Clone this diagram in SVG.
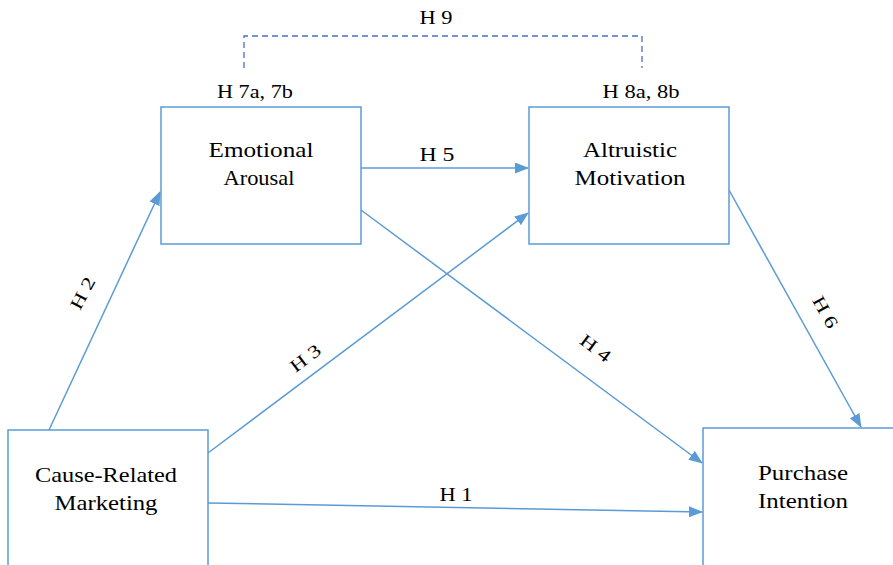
<svg xmlns="http://www.w3.org/2000/svg" width="893" height="565" viewBox="0 0 893 565">
<style>
.box{fill:#fff;stroke:#5B9BD5;stroke-width:1.5}
.ln{fill:none;stroke:#5B9BD5;stroke-width:1.5}
.dash{fill:none;stroke:#4472C4;stroke-width:1.3;stroke-dasharray:6 4}
text{font-family:'Liberation Serif','DejaVu Serif',serif;fill:#000;text-anchor:middle}
.nt{font-size:22px}
.lb{font-size:18px}
</style>
<defs>
<marker id="ah" markerWidth="14" markerHeight="11" refX="13" refY="5.5" orient="auto" markerUnits="userSpaceOnUse">
<path d="M0,0 L14,5.5 L0,11 Z" fill="#5B9BD5"/>
</marker>
</defs>
<rect width="893" height="565" fill="#fff"/>
<g id="connectors">
<line class="ln" x1="49" y1="430" x2="160" y2="192" marker-end="url(#ah)"/>
<line class="ln" x1="208" y1="453" x2="528" y2="213" marker-end="url(#ah)"/>
<line class="ln" x1="361" y1="168" x2="528" y2="168" marker-end="url(#ah)"/>
<line class="ln" x1="361" y1="210" x2="702" y2="463" marker-end="url(#ah)"/>
<line class="ln" x1="729" y1="190" x2="861" y2="427" marker-end="url(#ah)"/>
<line class="ln" x1="208" y1="503" x2="702" y2="512" marker-end="url(#ah)"/>
<polyline class="dash" points="244,68 244,36 642,36 642,68"/>
<text class="lb" x="436" y="24" textLength="33" lengthAdjust="spacingAndGlyphs">H 9</text>
<text class="lb" x="255" y="98" textLength="76" lengthAdjust="spacingAndGlyphs">H 7a, 7b</text>
<text class="lb" x="641" y="98" textLength="77" lengthAdjust="spacingAndGlyphs">H 8a, 8b</text>
<text class="lb" x="437" y="161" textLength="35" lengthAdjust="spacingAndGlyphs">H 5</text>
<text class="lb" x="456" y="501" textLength="33" lengthAdjust="spacingAndGlyphs">H 1</text>
<text class="lb" transform="translate(88,296) rotate(-62)" textLength="34" lengthAdjust="spacingAndGlyphs">H 2</text>
<text class="lb" transform="translate(309,363) rotate(-37)" textLength="34" lengthAdjust="spacingAndGlyphs">H 3</text>
<text class="lb" transform="translate(592,353) rotate(37)" textLength="34" lengthAdjust="spacingAndGlyphs">H 4</text>
<text class="lb" transform="translate(820,315) rotate(61)" textLength="34" lengthAdjust="spacingAndGlyphs">H 6</text>
</g>
<g id="emotional-arousal">
<rect class="box" x="161" y="107" width="200" height="137"/>
<text class="nt" x="261" y="157" textLength="105" lengthAdjust="spacingAndGlyphs">Emotional</text>
<text class="nt" x="259" y="185" textLength="71" lengthAdjust="spacingAndGlyphs">Arousal</text>
</g>
<g id="altruistic-motivation">
<rect class="box" x="529" y="107" width="200" height="137"/>
<text class="nt" x="630" y="157" textLength="94" lengthAdjust="spacingAndGlyphs">Altruistic</text>
<text class="nt" x="630" y="185" textLength="111" lengthAdjust="spacingAndGlyphs">Motivation</text>
</g>
<g id="cause-related-marketing">
<rect class="box" x="8" y="430" width="200" height="150"/>
<text class="nt" x="106" y="482" textLength="142" lengthAdjust="spacingAndGlyphs">Cause-Related</text>
<text class="nt" x="106" y="510" textLength="103" lengthAdjust="spacingAndGlyphs">Marketing</text>
</g>
<g id="purchase-intention">
<rect class="box" x="703" y="428" width="200" height="150"/>
<text class="nt" x="803" y="480" textLength="90" lengthAdjust="spacingAndGlyphs">Purchase</text>
<text class="nt" x="803" y="508" textLength="90" lengthAdjust="spacingAndGlyphs">Intention</text>
</g>
</svg>
